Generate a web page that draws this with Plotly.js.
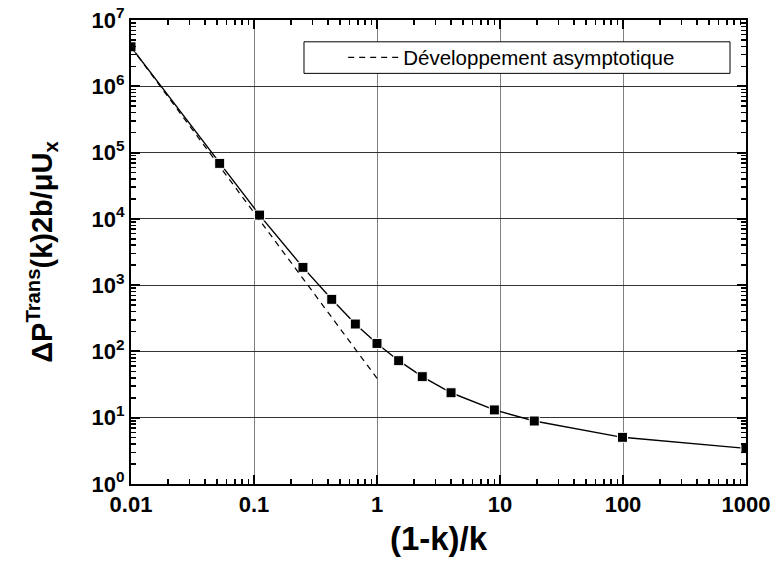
<!DOCTYPE html>
<html>
<head>
<meta charset="utf-8">
<script src="https://cdn.plot.ly/plotly-3.0.1.min.js"></script>
<style>html,body{margin:0;padding:0;background:#fff;}#chart{width:775px;height:578px;}</style>
</head>
<body>
<div id="chart"></div>
<script>
// (1-k)/k values and ΔP values
const ratioX = [0.01, 0.0526, 0.111, 0.25, 0.4286, 0.6667, 1, 1.5, 2.333, 4, 9, 19, 99, 999];
const pressureY = [3.94e6, 6.87e4, 1.14e4, 1855, 611, 259, 132, 72.5, 41.6, 23.8, 13.1, 8.92, 5.06, 3.45];
// asymptotic expansion (straight line on log-log)
const asymX = [0.01, 1];
const asymY = [3.93e6, 39.3];
const legendName = "Développement asymptotique";
const xTickVals = [0.01, 0.1, 1, 10, 100, 1000];
const xTickText = ["0.01", "0.1", "1", "10", "100", "1000"];
const yTickVals = [1, 10, 100, 1e3, 1e4, 1e5, 1e6, 1e7];
const yTickText = ["10<sup>0</sup>", "10<sup>1</sup>", "10<sup>2</sup>", "10<sup>3</sup>", "10<sup>4</sup>", "10<sup>5</sup>", "10<sup>6</sup>", "10<sup>7</sup>"];

const FONT = "Arial, 'Liberation Sans', sans-serif";

const traces = [
  {
    x: ratioX, y: pressureY, type: 'scatter', mode: 'lines+markers',
    line: {color: '#000', width: 1.4},
    marker: {symbol: 'square', size: 10, color: '#000', line: {color: '#fff', width: 1}},
    showlegend: false
  },
  {
    x: asymX, y: asymY, type: 'scatter', mode: 'lines',
    name: legendName,
    line: {color: '#000', width: 1.2, dash: '6px,5px'}
  }
];

const axisCommon = {
  type: 'log',
  showline: true, linecolor: '#000', linewidth: 2,
  mirror: 'allticks',
  ticks: 'inside', ticklen: 9, tickwidth: 2, tickcolor: '#000',
  showgrid: true, gridwidth: 1,
  zeroline: false,
  tickfont: {family: FONT, size: 22, color: '#000', weight: 'bold'},
  minor: {ticks: 'inside', ticklen: 5, tickwidth: 1.5, tickcolor: '#000', dtick: 'D1', showgrid: false}
};

const layout = {
  width: 775, height: 578,
  margin: {l: 131, r: 29, t: 20, b: 94},
  paper_bgcolor: '#fff', plot_bgcolor: '#fff',
  font: {family: FONT, color: '#000'},
  xaxis: Object.assign({}, axisCommon, {
    range: [-2, 3],
    tickmode: 'array', tickvals: xTickVals, ticktext: xTickText,
    gridcolor: '#808080',
    title: {text: '(1-k)/k', font: {family: FONT, size: 33, weight: 'bold', color: '#000'}, standoff: 10}
  }),
  yaxis: Object.assign({}, axisCommon, {
    range: [0, 7],
    tickmode: 'array', tickvals: yTickVals, ticktext: yTickText,
    gridcolor: '#333',
    title: {text: 'ΔP<sup>Trans</sup>(k)2b/μU<sub>x</sub>', font: {family: FONT, size: 29, weight: 'bold', color: '#000'}, standoff: 30}
  }),
  showlegend: true,
  legend: {
    x: 0.345, xanchor: 'left', y: 0.919, yanchor: 'middle',
    bgcolor: 'rgba(0,0,0,0)', borderwidth: 0,
    itemwidth: 50,
    font: {family: FONT, size: 20.5, color: '#000'}
  },
  shapes: [{
    type: 'rect', xref: 'paper', yref: 'paper',
    x0: 0.2813, x1: 0.974, y0: 0.885, y1: 0.953,
    line: {color: '#000', width: 1}, fillcolor: '#fff', layer: 'above'
  }]
};

Plotly.newPlot('chart', traces, layout, {displayModeBar: false, staticPlot: true});
</script>
</body>
</html>
